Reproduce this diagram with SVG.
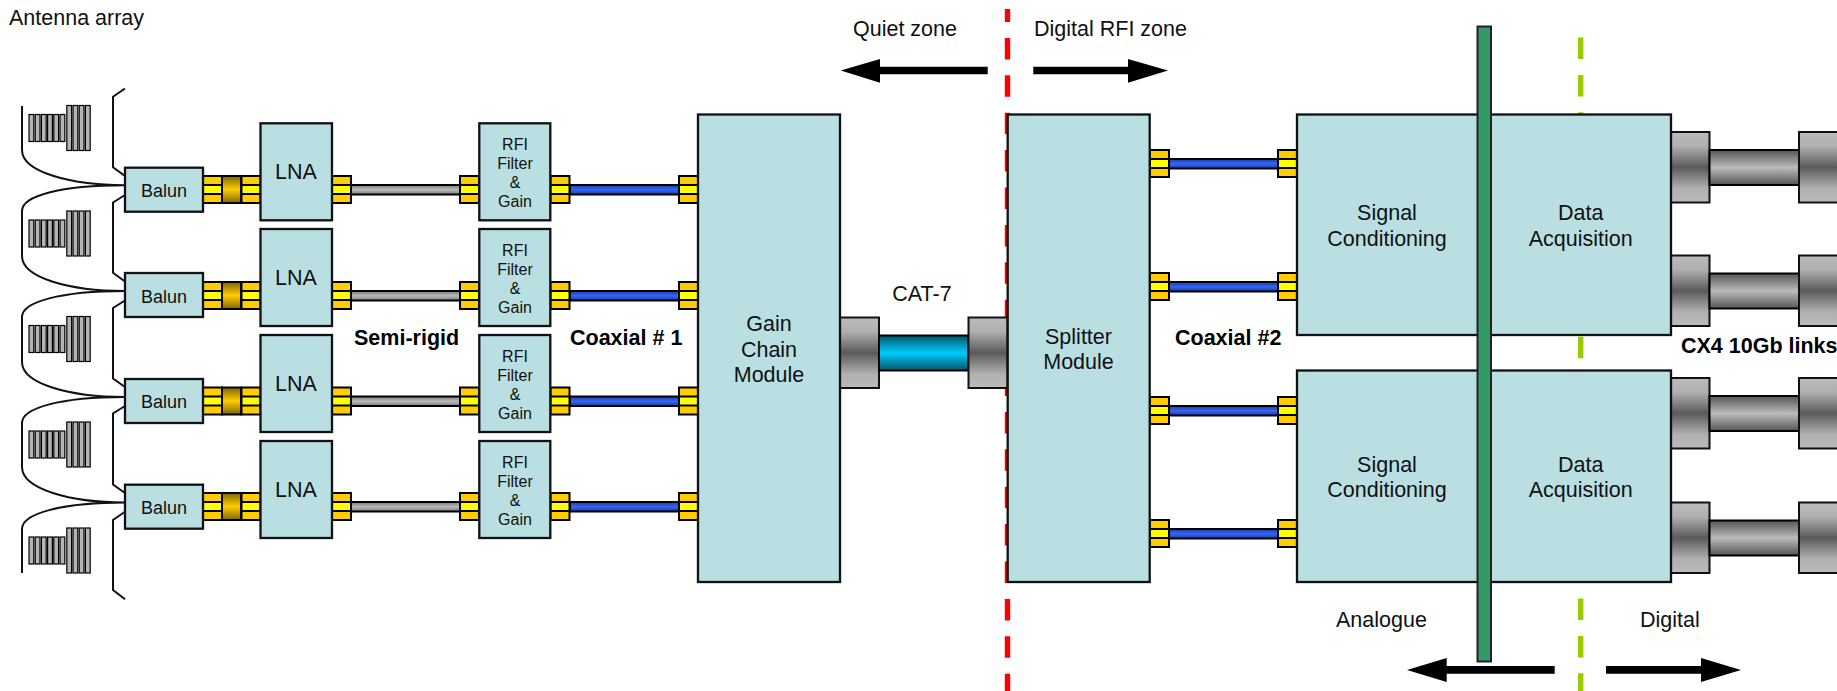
<svg xmlns="http://www.w3.org/2000/svg" width="1837" height="691" viewBox="0 0 1837 691">
<style>
text{font-family:"Liberation Sans",Arial,sans-serif;font-size:21.500px;fill:#111;text-anchor:middle}
.l{text-anchor:start}
.b{font-weight:bold;text-anchor:start;fill:#000}
.s{font-size:18px}
.r{font-size:16px}
.box{fill:#BADFE3;stroke:#111;stroke-width:2.300}
.conn{fill:#FFCC00;stroke:#000;stroke-width:2}
.wire{fill:none;stroke:#111;stroke-width:2}
.tooth{fill:#B4B4B4;stroke:#000;stroke-width:1.200}
.arrow{fill:#000}
</style>
<defs>
<linearGradient id="gBrown" x1="0" y1="0" x2="0" y2="1"><stop offset="0" stop-color="#806600"/><stop offset=".5" stop-color="#FFCC00"/><stop offset="1" stop-color="#806600"/></linearGradient>
<linearGradient id="gSemi" x1="0" y1="0" x2="0" y2="1"><stop offset="0" stop-color="#777"/><stop offset=".5" stop-color="#BBB"/><stop offset="1" stop-color="#777"/></linearGradient>
<linearGradient id="gBlue" x1="0" y1="0" x2="0" y2="1"><stop offset="0" stop-color="#1E3C99"/><stop offset=".5" stop-color="#3366FF"/><stop offset="1" stop-color="#1E3C99"/></linearGradient>
<linearGradient id="gCat" x1="0" y1="0" x2="0" y2="1"><stop offset="0" stop-color="#005566"/><stop offset=".5" stop-color="#00CCFF"/><stop offset="1" stop-color="#005566"/></linearGradient>
<linearGradient id="gPlug" x1="0" y1="0" x2="0" y2="1"><stop offset="0" stop-color="#BBB"/><stop offset=".2" stop-color="#B0B0B0"/><stop offset=".5" stop-color="#5A5A5A"/><stop offset=".8" stop-color="#B0B0B0"/><stop offset="1" stop-color="#BBB"/></linearGradient>
<linearGradient id="gCx" x1="0" y1="0" x2="0" y2="1"><stop offset="0" stop-color="#555"/><stop offset=".5" stop-color="#BBB"/><stop offset="1" stop-color="#555"/></linearGradient>
<g id="sma">
<rect class="conn" x="0" y="0" width="19" height="27"/>
<rect x="0" y="9" width="19" height="9" fill="#FFFF00" stroke="#000" stroke-width="2"/>
</g>
<g id="ant">
<rect class="tooth" x="29" y="9" width="4.800" height="27"/><rect class="tooth" x="35.200" y="9" width="4.800" height="27"/><rect class="tooth" x="41.400" y="9" width="4.800" height="27"/><rect class="tooth" x="47.600" y="9" width="4.800" height="27"/><rect class="tooth" x="53.800" y="9" width="4.800" height="27"/><rect class="tooth" x="60" y="9" width="4.800" height="27"/>
<rect class="tooth" x="66.800" y="0" width="4.800" height="45"/><rect class="tooth" x="73" y="0" width="4.800" height="45"/><rect class="tooth" x="79.200" y="0" width="4.800" height="45"/><rect class="tooth" x="85.400" y="0" width="4.800" height="45"/>
</g>
<g id="rowLeft">
<use href="#sma" x="203" y="0"/>
<rect x="222" y="0" width="19" height="27" fill="url(#gBrown)" stroke="#000" stroke-width="2"/>
<use href="#sma" x="241.500" y="0"/>
<use href="#sma" x="332" y="0"/>
<rect x="351" y="9" width="109" height="9.500" fill="url(#gSemi)" stroke="#000" stroke-width="2"/>
<use href="#sma" x="460" y="0"/>
<use href="#sma" x="550.500" y="0"/>
<rect x="570" y="9" width="109" height="9.500" fill="url(#gBlue)" stroke="#000" stroke-width="2"/>
<use href="#sma" x="679" y="0"/>
</g>
<g id="rowSplit">
<use href="#sma" x="1150" y="0"/>
<rect x="1169" y="9" width="109" height="9.500" fill="url(#gBlue)" stroke="#000" stroke-width="2"/>
<use href="#sma" x="1278" y="0"/>
</g>
<g id="cx4">
<rect x="1671" y="0" width="38.500" height="70.500" fill="url(#gPlug)" stroke="#111" stroke-width="2"/>
<rect x="1709.500" y="18" width="89.500" height="35" fill="url(#gCx)" stroke="#000" stroke-width="2"/>
<rect x="1799" y="0" width="50" height="70.500" fill="url(#gPlug)" stroke="#111" stroke-width="2"/>
</g>
</defs>
<rect width="1837" height="691" fill="#fff"/>
<g id="dividers">
<line x1="1007.500" y1="9" x2="1007.500" y2="691" stroke="#FF0000" stroke-width="5.400" stroke-dasharray="21.500 15.900" stroke-dashoffset="8.500"/>
<line x1="1580.700" y1="37.500" x2="1580.700" y2="691" stroke="#99CC00" stroke-width="5.400" stroke-dasharray="21.500 15.900"/>
</g>
<g id="connectors">
<use href="#rowLeft" y="176"/>
<use href="#rowLeft" y="282"/>
<use href="#rowLeft" y="387.500"/>
<use href="#rowLeft" y="493"/>
<use href="#rowSplit" y="150"/>
<use href="#rowSplit" y="273"/>
<use href="#rowSplit" y="397"/>
<use href="#rowSplit" y="520"/>
<rect x="840" y="317.500" width="39" height="70.500" fill="url(#gPlug)" stroke="#111" stroke-width="2"/>
<rect x="879" y="335.500" width="89.500" height="35" fill="url(#gCat)" stroke="#000" stroke-width="2"/>
<rect x="968.500" y="317.500" width="39" height="70.500" fill="url(#gPlug)" stroke="#111" stroke-width="2"/>
<use href="#cx4" y="132"/>
<use href="#cx4" y="255.500"/>
<use href="#cx4" y="378"/>
<use href="#cx4" y="502.500"/>
</g>
<g id="antennas">
<use href="#ant" y="105.500"/>
<use href="#ant" y="211"/>
<use href="#ant" y="316.500"/>
<use href="#ant" y="422"/>
<use href="#ant" y="528"/>
<path class="wire" d="M22 106V150C22 172 70 185 125 185.300C60 185.300 22 196 22 211V256C22 278 70 291 125 291C60 291 22 302 22 317V362C22 384 70 397 125 397C60 397 22 408 22 423V467C22 489 70 502.500 125 502.500C60 502.500 22 514 22 529V573"/>
<path class="wire" d="M125 88.500L113 96.700V167.300L125 176M125 195L113 202.500V272.700L125 281.500M125 300.500L113 308V378.500L125 387M125 406L113 413.500V484.500L125 493M125 511.700L113 520V590L125 599.300"/>
</g>
<g id="balun1"><rect class="box" x="125" y="167.700" width="78" height="44"/><text class="s" x="164" y="196.700">Balun</text></g>
<g id="balun2"><rect class="box" x="125" y="273" width="78" height="44"/><text class="s" x="164" y="302.500">Balun</text></g>
<g id="balun3"><rect class="box" x="125" y="379" width="78" height="44"/><text class="s" x="164" y="408">Balun</text></g>
<g id="balun4"><rect class="box" x="125" y="484.700" width="78" height="44"/><text class="s" x="164" y="513.700">Balun</text></g>
<g id="lna1"><rect class="box" x="260.500" y="123.300" width="71.500" height="97"/><text x="296" y="179.300">LNA</text></g>
<g id="lna2"><rect class="box" x="260.500" y="229" width="71.500" height="97"/><text x="296" y="285">LNA</text></g>
<g id="lna3"><rect class="box" x="260.500" y="335" width="71.500" height="97"/><text x="296" y="391">LNA</text></g>
<g id="lna4"><rect class="box" x="260.500" y="441" width="71.500" height="97"/><text x="296" y="497">LNA</text></g>
<g id="rfi1"><rect class="box" x="479.300" y="123.300" width="71" height="97"/><text class="r" x="515" y="150">RFI</text><text class="r" x="515" y="169">Filter</text><text class="r" x="515" y="188">&amp;</text><text class="r" x="515" y="207">Gain</text></g>
<g id="rfi2"><rect class="box" x="479.300" y="229" width="71" height="97"/><text class="r" x="515" y="256">RFI</text><text class="r" x="515" y="275">Filter</text><text class="r" x="515" y="294">&amp;</text><text class="r" x="515" y="313">Gain</text></g>
<g id="rfi3"><rect class="box" x="479.300" y="335" width="71" height="97"/><text class="r" x="515" y="362">RFI</text><text class="r" x="515" y="381">Filter</text><text class="r" x="515" y="400">&amp;</text><text class="r" x="515" y="419">Gain</text></g>
<g id="rfi4"><rect class="box" x="479.300" y="441" width="71" height="97"/><text class="r" x="515" y="468">RFI</text><text class="r" x="515" y="487">Filter</text><text class="r" x="515" y="506">&amp;</text><text class="r" x="515" y="525">Gain</text></g>
<g id="gain"><rect class="box" x="698" y="114.500" width="142" height="467.500"/><text x="769" y="331">Gain</text><text x="769" y="357">Chain</text><text x="769" y="382">Module</text></g>
<g id="splitter"><rect class="box" x="1007.700" y="114.500" width="142" height="467.500"/><text x="1078.500" y="344">Splitter</text><text x="1078.500" y="369">Module</text></g>
<g id="sigdata1"><rect class="box" x="1297" y="114.500" width="374" height="220.500"/><text x="1387" y="220">Signal</text><text x="1387" y="246">Conditioning</text><text x="1580.700" y="220">Data</text><text x="1580.700" y="246">Acquisition</text></g>
<g id="sigdata2"><rect class="box" x="1297" y="370.500" width="374" height="211.500"/><text x="1387" y="472">Signal</text><text x="1387" y="497">Conditioning</text><text x="1580.700" y="472">Data</text><text x="1580.700" y="497">Acquisition</text></g>
<g id="bar"><rect x="1477.500" y="26.500" width="13.500" height="635" fill="#339966" stroke="#222" stroke-width="2"/></g>
<g id="arrows">
<path class="arrow" d="M987.700 66.700H880V59L840.700 70.500L880 82.700V74.300H987.700Z"/>
<path class="arrow" d="M1033.300 66.700H1128V59L1168 70.500L1128 82.700V74.300H1033.300Z"/>
<path class="arrow" d="M1554.700 666H1446.700V658L1407 670L1446.700 682V673.700H1554.700Z"/>
<path class="arrow" d="M1606 666H1701V658L1741 670L1701 682V673.700H1606Z"/>
</g>
<g id="labels">
<text class="l" x="9" y="25">Antenna array</text>
<text class="l" x="853" y="36">Quiet zone</text>
<text class="l" x="1034" y="36">Digital RFI zone</text>
<text x="922" y="301">CAT-7</text>
<text class="b" x="354" y="345">Semi-rigid</text>
<text class="b" x="570" y="345">Coaxial # 1</text>
<text class="b" x="1175" y="345">Coaxial #2</text>
<text class="b" x="1681" y="353">CX4 10Gb links</text>
<text class="l" x="1336" y="627">Analogue</text>
<text class="l" x="1640" y="627">Digital</text>
</g>
</svg>
